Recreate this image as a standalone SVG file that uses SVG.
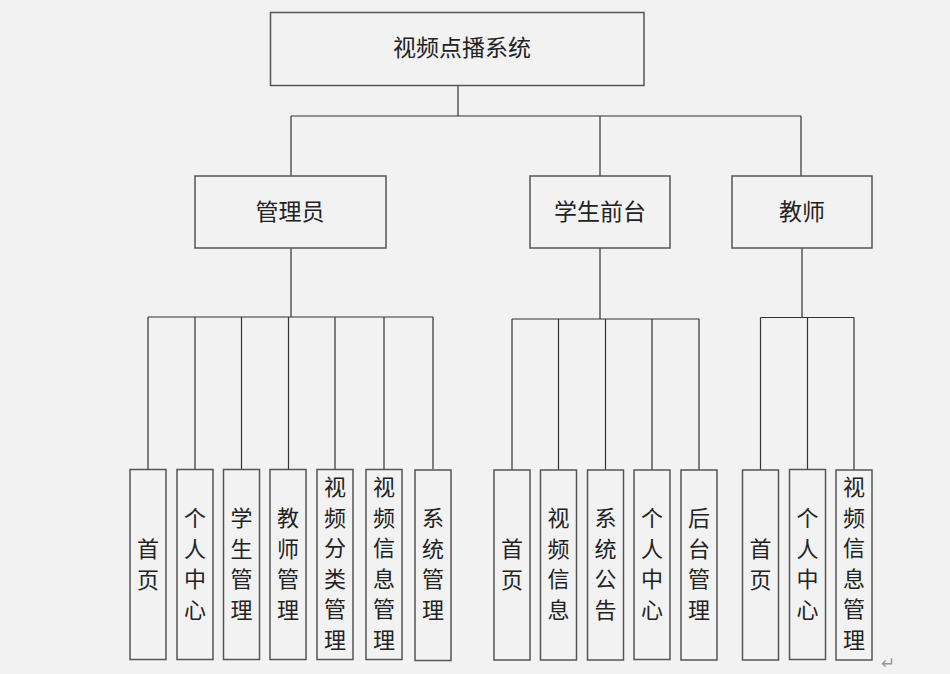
<svg xmlns="http://www.w3.org/2000/svg" width="950" height="674" viewBox="0 0 950 674">
<style>
.bg{fill:#f2f2f2}
.box{fill:#f2f2f2;stroke:#555;stroke-width:1.5}
.ln{fill:none;stroke:#333;stroke-width:1.2}
.t{font-family:"Noto Sans CJK SC","Microsoft YaHei",sans-serif;font-size:23px;fill:#222;text-anchor:middle}
.v{font-family:"Noto Sans CJK SC","Microsoft YaHei",sans-serif;font-size:22px;fill:#222;text-anchor:middle}
.mark{font-family:"DejaVu Sans",sans-serif;font-size:17px;fill:#999}
</style>
<rect class="bg" x="0" y="0" width="950" height="674"/>
<g id="connectors">
<path class="ln" d="M458,85.5V116M291,116H801M291,116V176M600,116V176M801,116V176"/>
<path class="ln" d="M291,248V317M148,317H433M148,317V469M195,317V469M241.5,317V469M288.5,317V469M335,317V469M384,317V469M433,317V469"/>
<path class="ln" d="M600,248V319M512,319H699M512,319V470M558.5,319V470M605.5,319V470M652,319V470M699,319V470"/>
<path class="ln" d="M802,248V317.5M760.5,317.5H854M760.5,317.5V470M807.5,317.5V470M854,317.5V470"/>
</g>
<g id="root"><rect class="box" x="270.5" y="12.5" width="373.5" height="73"/><text class="t" x="462" y="56" font-size="24">视频点播系统</text></g>
<g id="admin"><rect class="box" x="195" y="176" width="191" height="72"/><text class="t" x="290" y="220">管理员</text></g>
<g id="student"><rect class="box" x="530" y="176" width="140" height="72"/><text class="t" x="600" y="220">学生前台</text></g>
<g id="teacher"><rect class="box" x="732" y="176" width="140" height="72"/><text class="t" x="802" y="220">教师</text></g>

<g id="a1"><rect class="box" x="130" y="469.5" width="36" height="190"/><text class="v"><tspan x="148" y="557">首</tspan><tspan x="148" dy="30.5">页</tspan></text></g>
<g id="a2"><rect class="box" x="177" y="469.5" width="36" height="190"/><text class="v"><tspan x="195" y="526">个</tspan><tspan x="195" dy="30.5">人</tspan><tspan x="195" dy="30.5">中</tspan><tspan x="195" dy="30.5">心</tspan></text></g>
<g id="a3"><rect class="box" x="223.5" y="469.5" width="36" height="190"/><text class="v"><tspan x="241.5" y="526">学</tspan><tspan x="241.5" dy="30.5">生</tspan><tspan x="241.5" dy="30.5">管</tspan><tspan x="241.5" dy="30.5">理</tspan></text></g>
<g id="a4"><rect class="box" x="270" y="469.5" width="36" height="190"/><text class="v"><tspan x="288" y="526">教</tspan><tspan x="288" dy="30.5">师</tspan><tspan x="288" dy="30.5">管</tspan><tspan x="288" dy="30.5">理</tspan></text></g>
<g id="a5"><rect class="box" x="317" y="469.5" width="36" height="190"/><text class="v"><tspan x="335" y="495">视</tspan><tspan x="335" dy="30.5">频</tspan><tspan x="335" dy="30.5">分</tspan><tspan x="335" dy="30.5">类</tspan><tspan x="335" dy="30.5">管</tspan><tspan x="335" dy="30.5">理</tspan></text></g>
<g id="a6"><rect class="box" x="366" y="469.5" width="36" height="190"/><text class="v"><tspan x="384" y="495">视</tspan><tspan x="384" dy="30.5">频</tspan><tspan x="384" dy="30.5">信</tspan><tspan x="384" dy="30.5">息</tspan><tspan x="384" dy="30.5">管</tspan><tspan x="384" dy="30.5">理</tspan></text></g>
<g id="a7"><rect class="box" x="415" y="470" width="36" height="190.5"/><text class="v"><tspan x="433" y="526">系</tspan><tspan x="433" dy="30.5">统</tspan><tspan x="433" dy="30.5">管</tspan><tspan x="433" dy="30.5">理</tspan></text></g>

<g id="s1"><rect class="box" x="494" y="470" width="36" height="190"/><text class="v"><tspan x="512" y="557">首</tspan><tspan x="512" dy="30.5">页</tspan></text></g>
<g id="s2"><rect class="box" x="540.5" y="470" width="36" height="190"/><text class="v"><tspan x="558.5" y="526">视</tspan><tspan x="558.5" dy="30.5">频</tspan><tspan x="558.5" dy="30.5">信</tspan><tspan x="558.5" dy="30.5">息</tspan></text></g>
<g id="s3"><rect class="box" x="587.5" y="470" width="36" height="190"/><text class="v"><tspan x="605.5" y="526">系</tspan><tspan x="605.5" dy="30.5">统</tspan><tspan x="605.5" dy="30.5">公</tspan><tspan x="605.5" dy="30.5">告</tspan></text></g>
<g id="s4"><rect class="box" x="634" y="470" width="36" height="189.5"/><text class="v"><tspan x="652" y="526">个</tspan><tspan x="652" dy="30.5">人</tspan><tspan x="652" dy="30.5">中</tspan><tspan x="652" dy="30.5">心</tspan></text></g>
<g id="s5"><rect class="box" x="681" y="470" width="36" height="190"/><text class="v"><tspan x="699" y="526">后</tspan><tspan x="699" dy="30.5">台</tspan><tspan x="699" dy="30.5">管</tspan><tspan x="699" dy="30.5">理</tspan></text></g>

<g id="t1"><rect class="box" x="742.5" y="470" width="36" height="190"/><text class="v"><tspan x="760.5" y="557">首</tspan><tspan x="760.5" dy="30.5">页</tspan></text></g>
<g id="t2"><rect class="box" x="789.5" y="469.5" width="36" height="190"/><text class="v"><tspan x="807.5" y="526">个</tspan><tspan x="807.5" dy="30.5">人</tspan><tspan x="807.5" dy="30.5">中</tspan><tspan x="807.5" dy="30.5">心</tspan></text></g>
<g id="t3"><rect class="box" x="836" y="470" width="36" height="190"/><text class="v"><tspan x="854" y="495">视</tspan><tspan x="854" dy="30.5">频</tspan><tspan x="854" dy="30.5">信</tspan><tspan x="854" dy="30.5">息</tspan><tspan x="854" dy="30.5">管</tspan><tspan x="854" dy="30.5">理</tspan></text></g>
<text class="mark" x="881" y="669">↵</text>
</svg>
